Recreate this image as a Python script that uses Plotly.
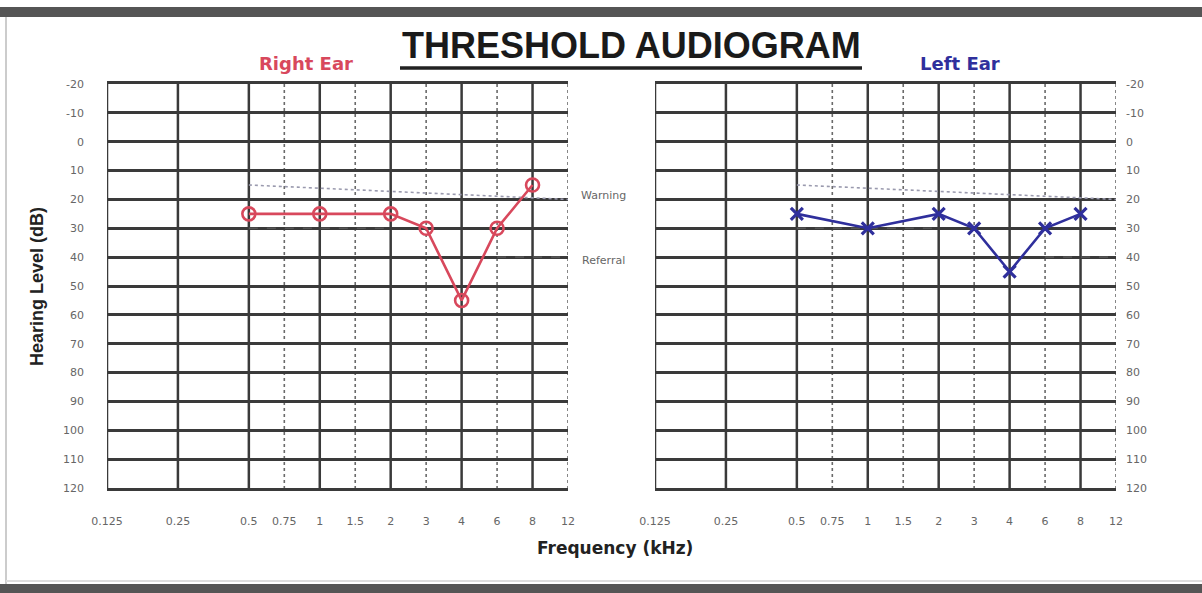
import math
import plotly.graph_objects as go

W, H = 1202, 593

# ---------------- data ----------------
FREQ_LABELS = ["0.125", "0.25", "0.5", "0.75", "1", "1.5", "2", "3", "4", "6", "8", "12"]
FREQS = [0.125, 0.25, 0.5, 0.75, 1, 1.5, 2, 3, 4, 6, 8, 12]
DB_TICKS = [-20, -10, 0, 10, 20, 30, 40, 50, 60, 70, 80, 90, 100, 110, 120]

TEST_FREQS = [0.5, 1, 2, 3, 4, 6, 8]
RIGHT_EAR = [25, 25, 25, 30, 55, 30, 15]
LEFT_EAR = [25, 30, 25, 30, 45, 30, 25]

WARN_FREQS = [0.5, 12]
WARN_LEVELS = [15, 20]
REFERRAL_FREQS = [0.5, 2, None, 6, 12]
REFERRAL_LEVELS = [30, 30, None, 40, 40]


# audiogram frequency scale: octaves two units apart, inter-octaves half way
def fpos(f):
    if f is None:
        return None
    k = int(math.floor(math.log2(f / 0.125) + 1e-9))
    frac = f / (0.125 * 2 ** k)
    return 2 * k + (1 if frac > 1.01 else 0)


def px_x(px):
    return px / W


def px_y(py):
    return 1 - py / H


POS = [fpos(f) for f in FREQS]
OCTAVE = [abs(math.log2(f / 0.125) - round(math.log2(f / 0.125))) < 1e-9 for f in FREQS]

RED = "#d8485c"
BLUE = "#2f2f9c"
GRID = "#3a3a3a"
SANS = "DejaVu Sans, Verdana, sans-serif"
ARIAL = "Liberation Sans, Arial, sans-serif"

fig = go.Figure()

panels = [("x", "y", RIGHT_EAR, RED, "circle-open"), ("x2", "y2", LEFT_EAR, BLUE, "x-thin-open")]

for xa, ya, vals, col, sym in panels:
    fig.add_trace(go.Scatter(
        x=[fpos(f) for f in WARN_FREQS], y=WARN_LEVELS, xaxis=xa, yaxis=ya, mode="lines",
        line=dict(color="#9a9aae", width=1.6, dash="dot"), hoverinfo="skip", showlegend=False))
    fig.add_trace(go.Scatter(
        x=[fpos(f) for f in REFERRAL_FREQS], y=REFERRAL_LEVELS, xaxis=xa, yaxis=ya, mode="lines",
        line=dict(color="#555555", width=1.6, dash="dash"), hoverinfo="skip", showlegend=False,
        connectgaps=False))
    fig.add_trace(go.Scatter(
        x=[fpos(f) for f in TEST_FREQS], y=vals, xaxis=xa, yaxis=ya, mode="lines+markers",
        line=dict(color=col, width=2.6),
        marker=dict(symbol=sym, size=13 if sym == "circle-open" else 12, color=col,
                    line=dict(color=col, width=2.6 if sym == "circle-open" else 3.2)),
        showlegend=False))
    # vertical grid lines
    for p, octv in zip(POS, OCTAVE):
        if octv:
            fig.add_shape(type="line", xref=xa, yref=ya, x0=p, x1=p, y0=DB_TICKS[0], y1=DB_TICKS[-1],
                          line=dict(color=GRID, width=2.5), layer="below")
        else:
            fig.add_shape(type="line", xref=xa, yref=ya, x0=p, x1=p, y0=DB_TICKS[0], y1=DB_TICKS[-1],
                          line=dict(color="#6a6a6a", width=1.6, dash="dot"), layer="below")

xcommon = dict(range=[POS[0], POS[-1]], tickvals=POS, ticktext=FREQ_LABELS, showgrid=False,
               zeroline=False, showline=True, mirror=True, linecolor=GRID, linewidth=2.5,
               ticks="", ticklabelstandoff=21, automargin=False,
               tickfont=dict(family=SANS, size=11, color="#666"))
ycommon = dict(range=[DB_TICKS[-1], DB_TICKS[0]], tickvals=DB_TICKS,
               ticktext=[str(v) for v in DB_TICKS], showgrid=True, gridcolor=GRID, gridwidth=2.5,
               zeroline=False, showline=False, ticks="", automargin=False,
               tickfont=dict(family=SANS, size=11, color="#666"),
               domain=[px_y(488), px_y(84)])

fig.update_layout(
    width=W, height=H, margin=dict(l=0, r=0, t=0, b=0, autoexpand=False),
    paper_bgcolor="white", plot_bgcolor="white",
    xaxis=dict(domain=[px_x(107), px_x(568)], anchor="y", **xcommon),
    xaxis2=dict(domain=[px_x(655), px_x(1116)], anchor="y2", **xcommon),
    yaxis=dict(anchor="x", side="left", ticklabelstandoff=22, **ycommon),
    yaxis2=dict(anchor="x2", side="right", ticklabelstandoff=9, **ycommon),
)

ann = [
    dict(text="<b>THRESHOLD AUDIOGRAM</b>", x=px_x(631), y=px_y(46), size=36, color="#1a1a1a", f=ARIAL),
    dict(text="<b>Right Ear</b>", x=px_x(306), y=px_y(63), size=18, color=RED, f=SANS),
    dict(text="<b>Left Ear</b>", x=px_x(960), y=px_y(63), size=18, color=BLUE, f=SANS),
    dict(text="<b>Frequency (kHz)</b>", x=px_x(615), y=px_y(548), size=17, color="#222", f=SANS),
    dict(text="Warning", x=px_x(603), y=px_y(195), size=11, color="#666", f=SANS),
    dict(text="Referral", x=px_x(603), y=px_y(260), size=11, color="#666", f=SANS),
]
for a in ann:
    fig.add_annotation(text=a["text"], x=a["x"], y=a["y"], xref="paper", yref="paper",
                       showarrow=False, xanchor="center", yanchor="middle",
                       font=dict(family=a["f"], size=a["size"], color=a["color"]))
fig.add_annotation(text="<b>Hearing Level (dB)</b>", x=px_x(37), y=px_y(287), xref="paper", yref="paper",
                   showarrow=False, textangle=-90, xanchor="center", yanchor="middle",
                   font=dict(family=ARIAL, size=18, color="#222"))

# title underline and frame
fig.add_shape(type="line", xref="paper", yref="paper", x0=px_x(400), x1=px_x(862), y0=px_y(68), y1=px_y(68),
              line=dict(color="#222", width=3.5))
fig.add_shape(type="rect", xref="paper", yref="paper", x0=0, x1=1, y0=px_y(17), y1=px_y(7),
              fillcolor="#555", line=dict(width=0))
fig.add_shape(type="rect", xref="paper", yref="paper", x0=0, x1=1, y0=0, y1=px_y(584),
              fillcolor="#555", line=dict(width=0))
fig.add_shape(type="line", xref="paper", yref="paper", x0=px_x(6), x1=px_x(6), y0=px_y(584), y1=px_y(17),
              line=dict(color="#cccccc", width=2))
fig.add_shape(type="line", xref="paper", yref="paper", x0=px_x(6), x1=1, y0=px_y(581), y1=px_y(581),
              line=dict(color="#dddddd", width=2))

fig.write_html("out.html")
